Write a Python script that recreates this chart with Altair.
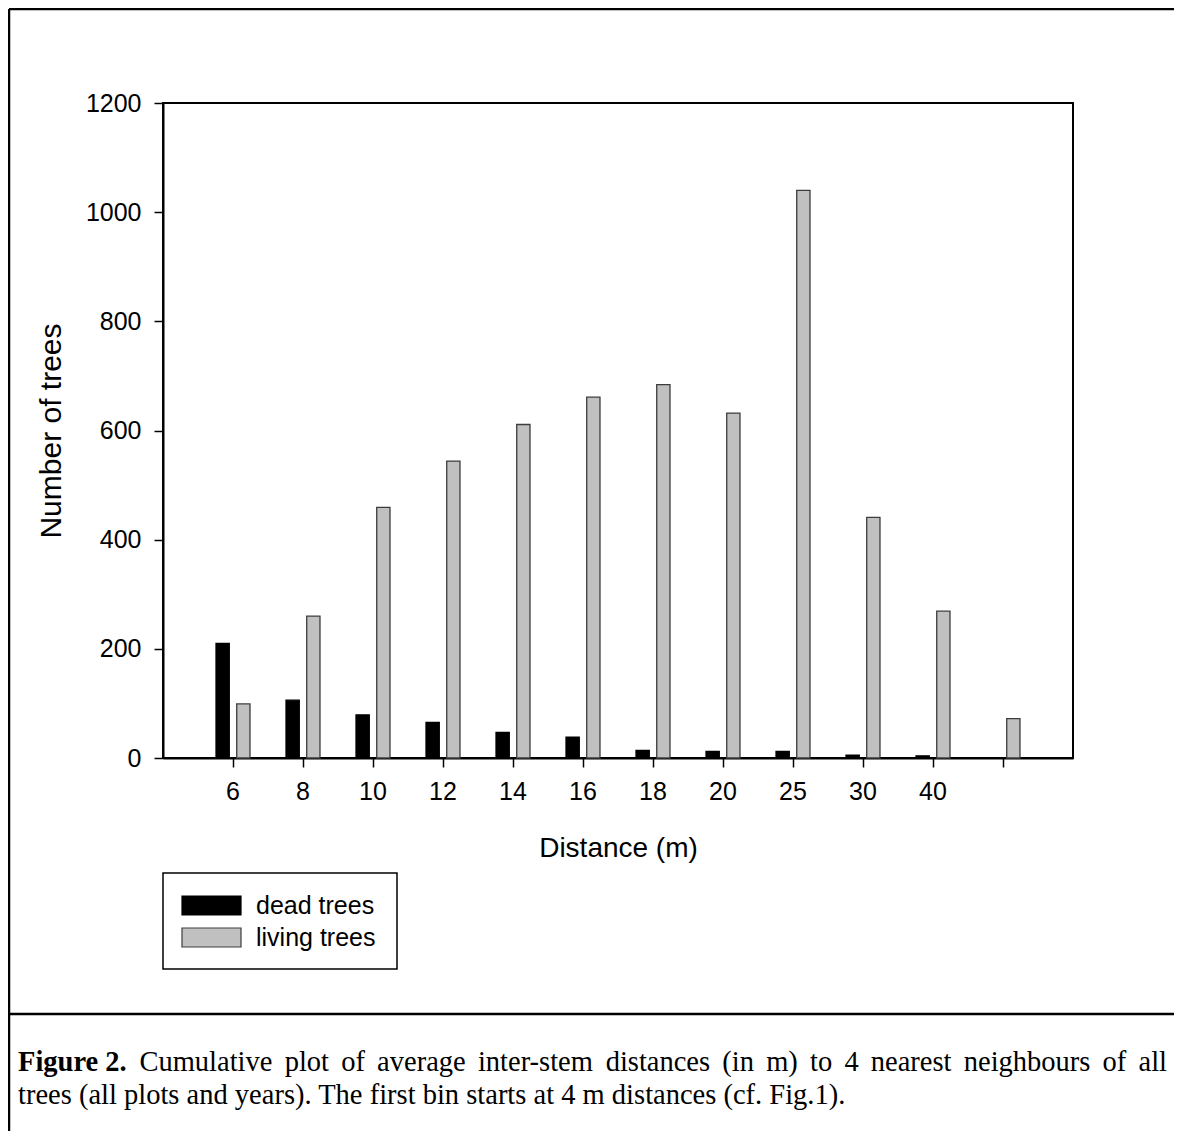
import altair as alt
import pandas as pd

# ---- data ----
categories = ["6", "8", "10", "12", "14", "16", "18", "20", "25", "30", "40", ">40"]
dead_trees = [210, 106, 79, 65, 47, 38, 14, 12, 12, 5, 4, 0]
living_trees = [99, 260, 459, 544, 611, 661, 684, 632, 1040, 441, 269, 72]
series = ["dead trees", "living trees"]
y_ticks = [0, 200, 400, 600, 800, 1000, 1200]
caption_line1 = "Cumulative plot of average inter-stem distances (in m) to 4 nearest neighbours of all"
caption_bold = "Figure 2."
caption_line2 = "trees (all plots and years). The first bin starts at 4 m distances (cf. Fig.1)."

rows = []
for i, c in enumerate(categories):
    rows.append({"dist": c, "series": series[0], "count": dead_trees[i]})
    rows.append({"dist": c, "series": series[1], "count": living_trees[i]})
df = pd.DataFrame(rows)

W, H = 910, 655
SANS = "Liberation Sans"
SERIF = "Liberation Serif"
one = pd.DataFrame({"k": [0]})

bars = alt.Chart(df).mark_bar(strokeWidth=1.3).encode(
    x=alt.X("dist:N", sort=categories,
            scale=alt.Scale(paddingInner=0, paddingOuter=0.5),
            axis=alt.Axis(title="Distance (m)", labelAngle=0,
                          labelExpr="datum.value == '>40' ? '' : datum.label",
                          labelPadding=12, titlePadding=30, titleFontSize=28)),
    xOffset=alt.XOffset("series:N", sort=series,
                        scale=alt.Scale(paddingInner=0.36, paddingOuter=0.87)),
    y=alt.Y("count:Q", scale=alt.Scale(domain=[0, 1200], nice=False),
            axis=alt.Axis(title="Number of trees", values=y_ticks, format="d", labelPadding=13,
                          titlePadding=19, titleFontSize=30)),
    fill=alt.Fill("series:N", scale=alt.Scale(domain=series, range=["#000000", "#c0c0c0"]), legend=None),
    stroke=alt.Stroke("series:N", scale=alt.Scale(domain=series, range=["#000000", "#3c3c3c"]), legend=None),
)

layers = [bars]

# ---- legend (drawn by hand) ----
layers.append(alt.Chart(one).mark_rect(fill="white", stroke="black", strokeWidth=1.5).encode(
    x=alt.value(0), x2=alt.value(234), y=alt.value(770), y2=alt.value(866)))
sw_colors = ["#000000", "#c0c0c0"]
sw_y = [793, 825]
for s, col, yy in zip(series, sw_colors, sw_y):
    layers.append(alt.Chart(one).mark_rect(fill=col, stroke="#3c3c3c" if col != "#000000" else "black",
                                           strokeWidth=1.2).encode(
        x=alt.value(19), x2=alt.value(78), y=alt.value(yy), y2=alt.value(yy + 19)))
    layers.append(alt.Chart(one).mark_text(text=s, font=SANS, fontSize=25, align="left",
                                           baseline="middle", color="black").encode(
        x=alt.value(93), y=alt.value(yy + 9.5)))

# ---- figure frame ----
FW = 2.5
layers.append(alt.Chart(one).mark_rule(color="black", strokeWidth=FW).encode(
    x=alt.value(-154), y=alt.value(-94), y2=alt.value(1030)))
layers.append(alt.Chart(one).mark_rule(color="black", strokeWidth=FW).encode(
    x=alt.value(-154), x2=alt.value(1012), y=alt.value(-94)))
layers.append(alt.Chart(one).mark_rule(color="black", strokeWidth=FW).encode(
    x=alt.value(-154), x2=alt.value(1012), y=alt.value(911)))

# ---- caption (line 1 justified) ----
REG = dict(a=444, b=500, c=444, d=500, e=444, f=333, g=500, h=500, i=278, l=278, m=778,
           n=500, o=500, p=500, r=333, s=389, t=278, u=500, v=500, y=500, C=667, F=556, T=611)
REG.update({"1": 500, "2": 500, "4": 500, "(": 333, ")": 333, "-": 333, ".": 250, " ": 250})
BOLD = dict(F=611, i=278, g=500, u=556, r=444, e=444)
BOLD.update({"2": 500, ".": 250, " ": 250})
CFS = 28.5


def tw(word, table):
    return sum(table.get(ch, 500) for ch in word) * CFS / 1000.0


words = caption_line1.split(" ")
x_left, x_right = -145, 1004
total = tw(caption_bold, BOLD) + sum(tw(w, REG) for w in words)
gap = (x_right - x_left - total) / len(words)
layers.append(alt.Chart(one).mark_text(text=caption_bold, font=SERIF, fontSize=CFS, fontWeight="bold",
                                       align="left", baseline="middle", color="black").encode(
    x=alt.value(x_left), y=alt.value(959)))
xpos = x_left + tw(caption_bold, BOLD) + gap
for w in words:
    layers.append(alt.Chart(one).mark_text(text=w, font=SERIF, fontSize=CFS, align="left",
                                           baseline="middle", color="black").encode(
        x=alt.value(xpos), y=alt.value(959)))
    xpos += tw(w, REG) + gap
layers.append(alt.Chart(one).mark_text(text=caption_line2, font=SERIF, fontSize=CFS, align="left",
                                       baseline="middle", color="black").encode(
    x=alt.value(x_left), y=alt.value(992)))

chart = alt.layer(*layers).properties(
    width=W, height=H,
    padding={"left": 155, "top": 95, "right": 101, "bottom": 373},
    autosize=alt.AutoSizeParams(type="none"),
    background="white",
).configure_view(stroke="black", strokeWidth=2).configure_axis(
    domainColor="black", domainWidth=2, tickColor="black", tickWidth=1.5, tickSize=9,
    labelFont=SANS, labelFontSize=25, labelColor="black",
    titleFont=SANS, titleFontWeight="normal", titleColor="black", grid=False,
)

chart.save("out.html", embed_options={"renderer": "svg", "actions": False})
